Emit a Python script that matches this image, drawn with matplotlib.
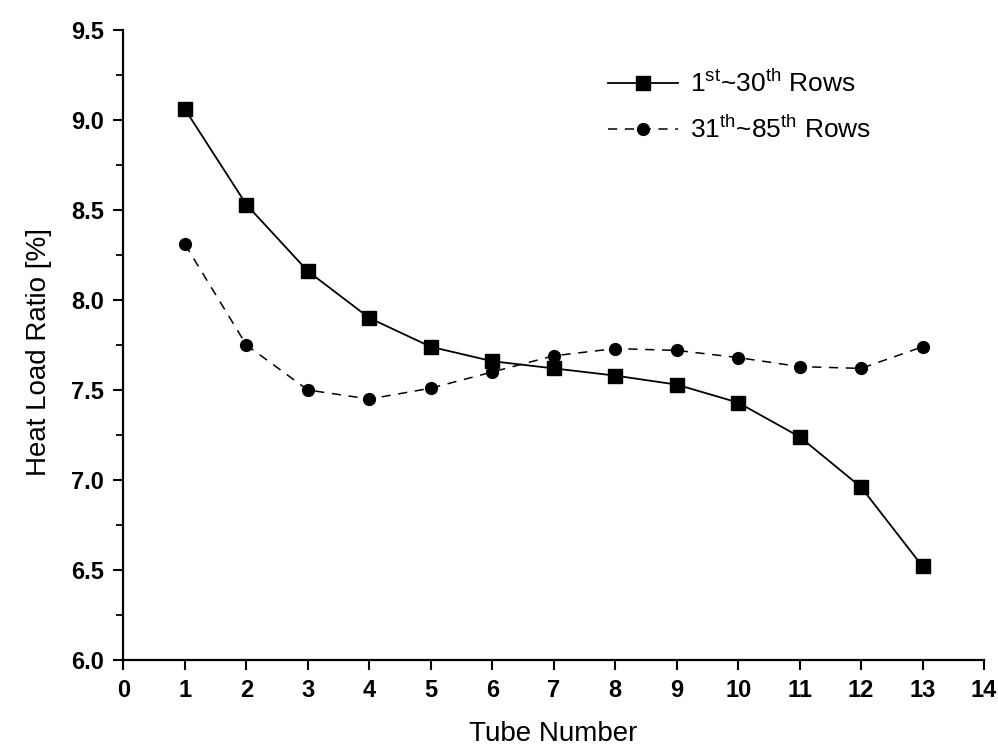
import matplotlib
matplotlib.use("Agg")
import matplotlib.pyplot as plt
from matplotlib.ticker import MultipleLocator

tube = [1, 2, 3, 4, 5, 6, 7, 8, 9, 10, 11, 12, 13]
rows_1_30 = [9.06, 8.53, 8.16, 7.90, 7.74, 7.66, 7.62, 7.58, 7.53, 7.43, 7.24, 6.96, 6.52]
rows_31_85 = [8.31, 7.75, 7.50, 7.45, 7.51, 7.60, 7.69, 7.73, 7.72, 7.68, 7.63, 7.62, 7.74]
labels = [r"1$^{\mathregular{st}}$~30$^{\mathregular{th}}$ Rows",
          r"31$^{\mathregular{th}}$~85$^{\mathregular{th}}$ Rows"]

plt.rcParams['font.family'] = ['Liberation Sans', 'DejaVu Sans']

fig = plt.figure(figsize=(9.98, 7.5), dpi=100)
ax = fig.add_axes([0.1237, 0.12, 0.8623, 0.84])

ax.plot(tube, rows_1_30, '-', color='black', lw=1.3, marker='s', ms=9.5, label=labels[0])
ax.plot(tube, rows_31_85, color='black', lw=1.1, ls=(0, (6, 5)), marker='o', ms=8.5, label=labels[1])

ax.set_xlim(0, 14)
ax.set_ylim(6.0, 9.5)
ax.xaxis.set_major_locator(MultipleLocator(1))
ax.yaxis.set_major_locator(MultipleLocator(0.5))
ax.yaxis.set_minor_locator(MultipleLocator(0.25))
ax.yaxis.set_major_formatter(matplotlib.ticker.FormatStrFormatter('%.1f'))

for s in ['top', 'right']:
    ax.spines[s].set_visible(False)
for s in ['left', 'bottom']:
    ax.spines[s].set_linewidth(1.6)

ax.tick_params(axis='both', which='major', direction='out', length=7, width=1.5,
               labelsize=17, pad=7)
ax.tick_params(axis='y', which='minor', direction='out', length=5, width=1.3)
for t in ax.get_xticklabels() + ax.get_yticklabels():
    t.set_fontweight('bold')

ax.set_xlabel('Tube Number', fontsize=20, va='top')
ax.set_ylabel('Heat Load Ratio [%]', fontsize=20)
ax.xaxis.set_label_coords(0.499, -0.097)
ax.yaxis.set_label_coords(-0.083, 0.489)

leg = ax.legend(loc='upper left', bbox_to_anchor=(0.563, 0.937), frameon=False,
                borderaxespad=0, borderpad=0,
                fontsize=19, handlelength=2.65, handletextpad=0.45, labelspacing=0.67)

fig.savefig('out.png', dpi=100)
